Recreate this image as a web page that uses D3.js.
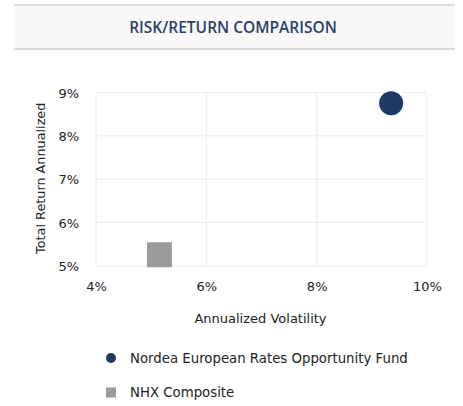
<!DOCTYPE html>
<html>
<head>
<meta charset="utf-8">
<script src="https://cdnjs.cloudflare.com/ajax/libs/d3/7.8.5/d3.min.js"></script>
<style>
  body { margin: 0; background: #fff; }
  svg { display: block; }
</style>
</head>
<body>
<div class="chart"></div>
<script>
var width = 463,
    height = 406;

// data
var seriesNames = ["Nordea European Rates Opportunity Fund", "NHX Composite"];
var volatility = [9.35, 5.15];
var returns = [8.75, 5.26];
var shapes = ["circle", "square"];
var colors = ["#1f3864", "#9b9b9b"];

var xTicks = [4, 6, 8, 10],
    yTicks = [5, 6, 7, 8, 9];

var plot = {left: 96, right: 427, top: 92.5, bottom: 266};
var font = "DejaVu Sans, Verdana, sans-serif";

var svg = d3.select(".chart").append("svg")
    .attr("width", width)
    .attr("height", height);

// header band
svg.append("rect")
    .attr("x", 14).attr("y", 5)
    .attr("width", 441).attr("height", 44)
    .style("fill", "#f9f9f9");
svg.append("rect")
    .attr("x", 14).attr("y", 4)
    .attr("width", 441).attr("height", 2)
    .style("fill", "#dcdcdc");
svg.append("rect")
    .attr("x", 14).attr("y", 48)
    .attr("width", 441).attr("height", 2)
    .style("fill", "#dcdcdc");
svg.append("text")
    .attr("x", 233).attr("y", 33)
    .attr("text-anchor", "middle")
    .style("font-family", "Open Sans, sans-serif")
    .style("font-weight", 600)
    .style("font-size", "15.5px")
    .style("fill", "#2b4066")
    .text("RISK/RETURN COMPARISON");

var x = d3.scaleLinear().domain([4, 10]).range([plot.left, plot.right]);
var y = d3.scaleLinear().domain([5, 9]).range([plot.bottom, plot.top]);

// gridlines
svg.append("g")
    .selectAll("line").data(xTicks).enter().append("line")
    .attr("x1", function(d) { return x(d); })
    .attr("x2", function(d) { return x(d); })
    .attr("y1", plot.top).attr("y2", plot.bottom)
    .style("stroke", "#ececec").style("stroke-width", 1);
svg.append("g")
    .selectAll("line").data(yTicks).enter().append("line")
    .attr("x1", plot.left).attr("x2", plot.right)
    .attr("y1", function(d) { return y(d); })
    .attr("y2", function(d) { return y(d); })
    .style("stroke", "#ececec").style("stroke-width", 1);

var fmt = function(d) { return d + "%"; };

var xAxis = svg.append("g")
    .attr("transform", "translate(0," + (plot.bottom + 13) + ")")
    .call(d3.axisBottom(x).tickValues(xTicks).tickFormat(fmt).tickSize(0));
var yAxis = svg.append("g")
    .attr("transform", "translate(" + (plot.left - 14) + ",0)")
    .call(d3.axisLeft(y).tickValues(yTicks).tickFormat(fmt).tickSize(0));

[xAxis, yAxis].forEach(function(a) {
    a.select(".domain").remove();
    a.selectAll("text")
        .style("font-family", font)
        .style("font-size", "13px")
        .style("fill", "#222");
});
yAxis.selectAll("text").attr("dy", "0.35em").attr("x", -3);

// axis titles
svg.append("text")
    .attr("x", (plot.left + plot.right) / 2 - 1).attr("y", 323)
    .attr("text-anchor", "middle")
    .style("font-family", font)
    .style("font-size", "13px")
    .style("fill", "#222")
    .text("Annualized Volatility");
svg.append("text")
    .attr("transform", "translate(45," + ((plot.top + plot.bottom) / 2 - 1) + ") rotate(-90)")
    .attr("text-anchor", "middle")
    .style("font-family", font)
    .style("font-size", "12.8px")
    .style("fill", "#222")
    .text("Total Return Annualized");

// points
var points = seriesNames.map(function(n, i) {
    return {name: n, vx: volatility[i], vy: returns[i], shape: shapes[i], color: colors[i]};
});

svg.append("g").selectAll("path").data(points).enter().append("path")
    .attr("transform", function(d) { return "translate(" + x(d.vx) + "," + y(d.vy) + ")"; })
    .attr("d", function(d) {
        return d.shape == "circle"
            ? d3.symbol(d3.symbolCircle, Math.PI * 12 * 12)()
            : d3.symbol(d3.symbolSquare, 25 * 25)();
    })
    .style("fill", function(d) { return d.color; });

// legend
var legend = svg.append("g").selectAll("g").data(points).enter().append("g")
    .attr("transform", function(d, i) { return "translate(111," + (358 + i * 34.5) + ")"; });
legend.append("path")
    .attr("d", function(d) {
        return d.shape == "circle"
            ? d3.symbol(d3.symbolCircle, Math.PI * 5 * 5)()
            : d3.symbol(d3.symbolSquare, 10 * 10)();
    })
    .style("fill", function(d) { return d.color; });
legend.append("text")
    .attr("x", 19).attr("dy", "0.35em")
    .style("font-family", font)
    .style("font-size", "13.3px")
    .style("fill", "#222")
    .text(function(d) { return d.name; });
</script>
</body>
</html>
